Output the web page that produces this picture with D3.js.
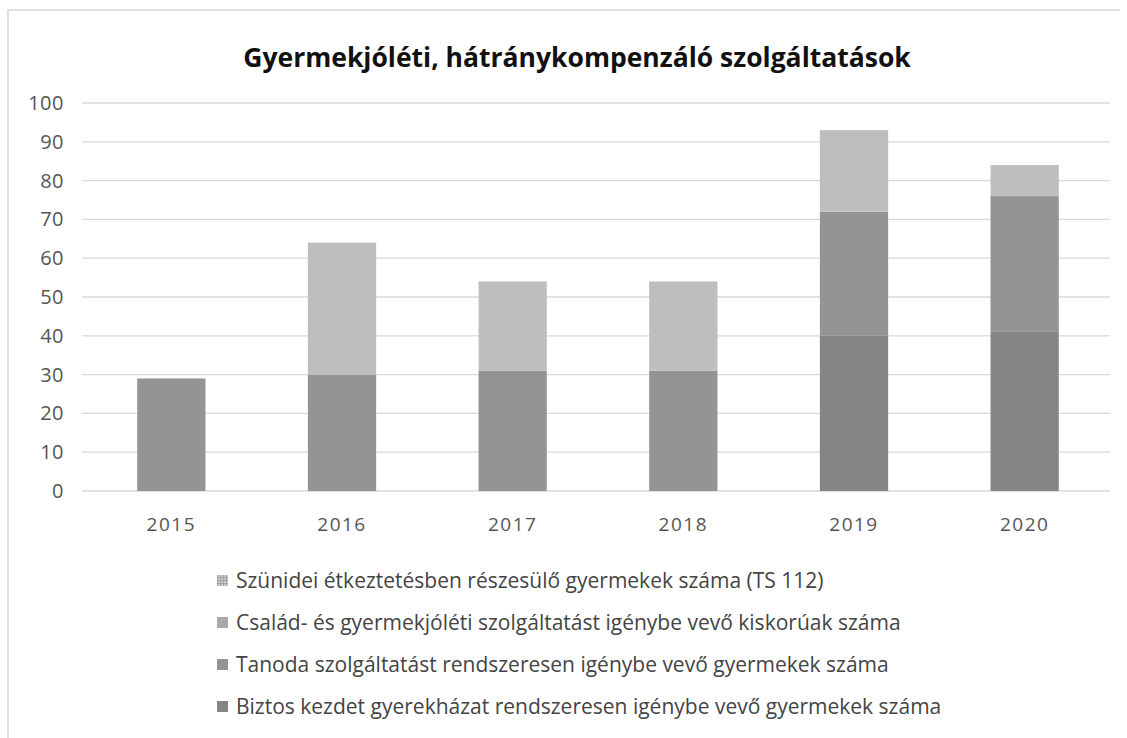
<!DOCTYPE html>
<html>
<head>
<meta charset="utf-8">
<script src="https://cdn.jsdelivr.net/npm/d3@7"></script>
<style>
  body { margin: 0; background: #fff; }
  svg text { font-family: "Open Sans", "Noto Sans", sans-serif; }
</style>
</head>
<body>
<div id="chart"></div>
<script>
// Gyermekjóléti, hátránykompenzáló szolgáltatások - stacked columns

const years = ['2015', '2016', '2017', '2018', '2019', '2020'];
const yTicks = [0, 10, 20, 30, 40, 50, 60, 70, 80, 90, 100];

// series listed bottom -> top of the stack
const seriesNames = [
    'Biztos kezdet gyerekházat rendszeresen igénybe vevő gyermekek száma',
    'Tanoda szolgáltatást rendszeresen igénybe vevő gyermekek száma',
    'Család- és gyermekjóléti szolgáltatást igénybe vevő kiskorúak száma',
    'Szünidei étkeztetésben részesülő gyermekek száma (TS 112)'
];
const biztosKezdet = [0, 0, 0, 0, 40, 41];
const tanoda = [29, 30, 31, 31, 32, 35];
const csalad = [0, 0, 0, 0, 0, 0];
const szunidei = [0, 34, 23, 23, 21, 8];

const seriesColors = ['#858585', '#949494', '#a9a9a9', '#bebebe'];

const W = 1127, H = 738;
const margin = {top: 103, right: 17, bottom: 247, left: 86};

const svg = d3.select('#chart').append('svg')
    .attr('width', W)
    .attr('height', H);

// hatch used by the Szünidei legend key
const pat = svg.append('defs').append('pattern')
    .attr('id', 'hatch')
    .attr('patternUnits', 'userSpaceOnUse')
    .attr('width', 3)
    .attr('height', 3);
pat.append('rect').attr('width', 3).attr('height', 3).attr('fill', '#c8c8c8');
pat.append('path').attr('d', 'M0,0 H3 M0,0 V3').attr('stroke', '#8a8a8a').attr('stroke-width', 1);

// frame
svg.append('path')
    .attr('d', `M8,${H} V10 H1120`)
    .attr('fill', 'none')
    .attr('stroke', '#d6d6d6')
    .attr('stroke-width', 1.5);

svg.append('text')
    .attr('x', 577)
    .attr('y', 67)
    .attr('text-anchor', 'middle')
    .style('font-size', '26.5px')
    .style('font-weight', 'bold')
    .attr('fill', '#111')
    .text('Gyermekjóléti, hátránykompenzáló szolgáltatások');

const rows = years.map((y, i) => ({
    year: y,
    s0: biztosKezdet[i],
    s1: tanoda[i],
    s2: csalad[i],
    s3: szunidei[i]
}));
const stacked = d3.stack().keys(['s0', 's1', 's2', 's3'])(rows);

const x = d3.scaleBand()
    .domain(years)
    .range([margin.left, W - margin.right])
    .paddingInner(0.6)
    .paddingOuter(0.3);

const y = d3.scaleLinear()
    .domain([0, 100])
    .range([H - margin.bottom, margin.top]);

// gridlines
svg.append('g')
    .selectAll('line')
    .data(yTicks)
    .join('line')
    .attr('x1', margin.left - 4)
    .attr('x2', W - margin.right)
    .attr('y1', d => y(d))
    .attr('y2', d => y(d))
    .attr('stroke', '#d9d9d9')
    .attr('stroke-width', 1.3);

// y axis labels
const yAxis = svg.append('g')
    .attr('transform', `translate(${margin.left - 22},0)`)
    .call(d3.axisLeft(y).tickValues(yTicks).tickSize(0).tickPadding(0));
yAxis.select('.domain').remove();
yAxis.selectAll('text')
    .style('font-size', '20px')
    .style('letter-spacing', '0.5px')
    .attr('fill', '#555');

// bars
svg.append('g')
    .selectAll('g')
    .data(stacked)
    .join('g')
    .attr('fill', (d, i) => seriesColors[i])
    .selectAll('rect')
    .data(d => d.filter(p => p[1] > p[0]))
    .join('rect')
    .attr('x', d => x(d.data.year))
    .attr('width', x.bandwidth())
    .attr('y', d => y(d[1]))
    .attr('height', d => y(d[0]) - y(d[1]));

// x axis labels
const xAxis = svg.append('g')
    .attr('transform', `translate(0,${H - margin.bottom})`)
    .call(d3.axisBottom(x).tickSize(0).tickPadding(27));
xAxis.select('.domain').remove();
xAxis.selectAll('text')
    .style('font-size', '19px')
    .style('letter-spacing', '1.5px')
    .attr('fill', '#555');

// legend (top of stack first)
const legendOrder = [3, 2, 1, 0];
const legend = svg.append('g');
legendOrder.forEach((si, i) => {
    const row = legend.append('g')
        .attr('transform', `translate(217, ${580 + i * 42})`);
    row.append('rect')
        .attr('x', 0)
        .attr('y', -5)
        .attr('width', 11)
        .attr('height', 11)
        .attr('fill', si === 3 ? 'url(#hatch)' : seriesColors[si]);
    row.append('text')
        .attr('x', 19)
        .attr('y', 7.5)
        .style('font-size', '21px')
        .attr('fill', '#444')
        .text(seriesNames[si]);
});
</script>
</body>
</html>
